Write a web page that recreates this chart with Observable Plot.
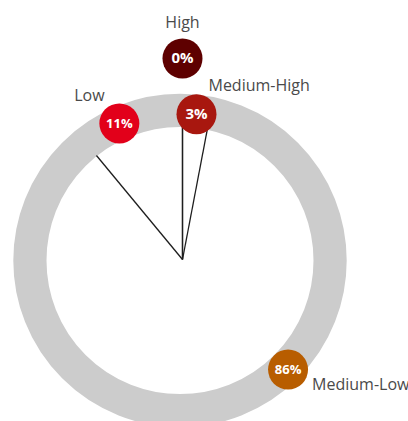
<!DOCTYPE html>
<html>
<head>
<meta charset="utf-8">
<script src="https://cdn.jsdelivr.net/npm/d3@7"></script>
<script src="https://cdn.jsdelivr.net/npm/@observablehq/plot@0.6"></script>
<style>
  html, body { margin: 0; padding: 0; background: #fff; }
  #chart svg { display: block; }
</style>
</head>
<body>
<div id="chart"></div>
<script>
// Share of items by risk level (percent), clockwise from 12 o'clock
const categories = ["High", "Medium-High", "Medium-Low", "Low"];
const shares = [0, 3, 86, 11];
const colors = ["#5e0000", "#a8170f", "#b85d00", "#e2001a"];

// Where each badge sits: angle (degrees clockwise from top) and distance from centre
const badgeAngle = [0, 5.5, 136.2, -24.9];
const badgeRadius = [201, 146, 152.5, 150];
// Where each category name sits relative to its badge
const nameOffset = [[0, 36], [12, 28], [24, -15], [-30, 28]];
const nameAnchor = ["middle", "start", "start", "middle"];

// Dial ring geometry (the ring sits a touch left of the pointer hub)
const ringOuter = 166.7, ringInner = 133.5;
const ringCentre = [-2.5, -1];
const rad = (deg) => (deg * Math.PI) / 180;

// Cumulative boundaries of each segment, as angles
let acc = 0;
const rows = categories.map((name, i) => {
  acc += shares[i];
  const end = (acc / 100) * 360;
  const a = rad(badgeAngle[i]);
  const bx = badgeRadius[i] * Math.sin(a);
  const by = badgeRadius[i] * Math.cos(a);
  return {
    name,
    share: shares[i],
    color: colors[i],
    endAngle: end,
    x2: 135 * Math.sin(rad(end)),
    y2: 135 * Math.cos(rad(end)),
    bx, by,
    nx: bx + nameOffset[i][0],
    ny: by + nameOffset[i][1],
    anchor: nameAnchor[i]
  };
});

const font = "'Open Sans', Lato, sans-serif";

const chart = Plot.plot({
  width: 408,
  height: 421,
  margin: 0,
  x: {domain: [-182, 226], axis: null},
  y: {domain: [-162, 259], axis: null},
  style: {background: "#fff", fontFamily: font},
  marks: [
    // grey dial ring
    Plot.dot([ringCentre], {
      x: (d) => d[0], y: (d) => d[1],
      r: (ringOuter + ringInner) / 2,
      stroke: "#cccccc",
      strokeWidth: ringOuter - ringInner,
      fill: "none"
    }),
    // segment boundaries
    Plot.link(rows, {
      x1: () => 0, y1: () => 0,
      x2: "x2", y2: "y2",
      stroke: "#1e1e1e",
      strokeWidth: 1.3
    }),
    // badges
    Plot.dot(rows, {x: "bx", y: "by", r: 20, fill: "color", stroke: "none"}),
    Plot.text(rows, {
      x: "bx", y: "by",
      text: (d) => `${d.share}%`,
      fill: "#fff",
      fontWeight: "bold",
      fontSize: (d) => (String(d.share).length > 1 ? 13 : 15)
    }),
    // category names
    ...["middle", "start"].map((anc) =>
      Plot.text(rows.filter((d) => d.anchor === anc), {
        x: "nx", y: "ny",
        text: "name",
        textAnchor: anc,
        fill: "#4a4a4a",
        fontSize: 16
      })
    )
  ]
});

document.getElementById("chart").append(chart);
</script>
</body>
</html>
